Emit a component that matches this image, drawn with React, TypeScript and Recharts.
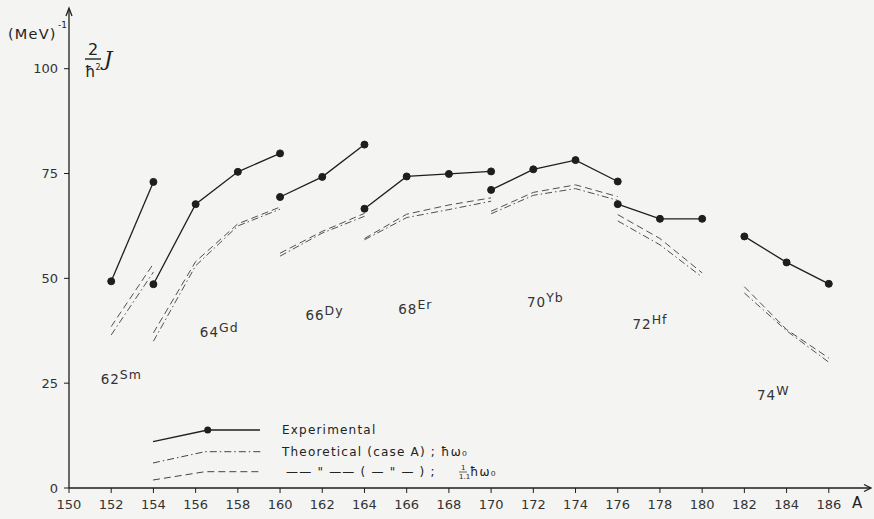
import { LineChart, Line, XAxis, YAxis, ReferenceDot, Legend } from 'recharts';

// mass numbers A for each isotope chain
const smMass = [152, 154];
const gdMass = [154, 156, 158, 160];
const dyMass = [160, 162, 164];
const erMass = [164, 166, 168, 170];
const ybMass = [170, 172, 174, 176];
const hfMass = [176, 178, 180];
const wMass = [182, 184, 186];

// experimental 2J/hbar^2 (MeV^-1)
const smExp = [49.3, 73.0];
const gdExp = [48.6, 67.7, 75.4, 79.8];
const dyExp = [69.4, 74.2, 81.9];
const erExp = [66.6, 74.3, 74.9, 75.5];
const ybExp = [71.1, 76.0, 78.2, 73.1];
const hfExp = [67.7, 64.2, 64.2];
const wExp = [60.0, 53.8, 48.7];

// theoretical, case A, hbar*omega0 (dash-dot)
const smCaseA = [36.5, 51.5];
const gdCaseA = [35.0, 53.0, 62.5, 66.5];
const dyCaseA = [55.3, 60.8, 64.8];
const erCaseA = [59.2, 64.5, 66.4, 68.4];
const ybCaseA = [65.4, 69.8, 71.4, 68.6];
const hfCaseA = [63.7, 58.0, 50.3];
const wCaseA = [46.5, 37.5, 30.0];

// theoretical, case A, hbar*omega0 / 1.1 (dashed)
const smReduced = [38.5, 53.5];
const gdReduced = [37.0, 54.0, 63.0, 67.0];
const dyReduced = [56.0, 61.2, 65.5];
const erReduced = [59.5, 65.3, 67.5, 69.2];
const ybReduced = [66.0, 70.5, 72.3, 69.5];
const hfReduced = [65.2, 59.5, 51.3];
const wReduced = [48.0, 37.8, 31.0];

const elementSymbols = ['Sm', 'Gd', 'Dy', 'Er', 'Yb', 'Hf', 'W'];
const atomicNumbers = ['62', '64', '66', '68', '70', '72', '74'];

const xTicks = [150, 152, 154, 156, 158, 160, 162, 164, 166, 168, 170, 172, 174, 176, 178, 180, 182, 184, 186];
const yTicks = [0, 25, 50, 75, 100];

// where each element name sits, in (A, value) coordinates
const labelAnchorA = [151.5, 156.2, 161.2, 165.6, 171.7, 176.7, 182.6];
const labelAnchorV = [24.7, 36.0, 40.0, 41.6, 43.2, 38.0, 21.1];

const chains = [
  { mass: smMass, exp: smExp, caseA: smCaseA, reduced: smReduced },
  { mass: gdMass, exp: gdExp, caseA: gdCaseA, reduced: gdReduced },
  { mass: dyMass, exp: dyExp, caseA: dyCaseA, reduced: dyReduced },
  { mass: erMass, exp: erExp, caseA: erCaseA, reduced: erReduced },
  { mass: ybMass, exp: ybExp, caseA: ybCaseA, reduced: ybReduced },
  { mass: hfMass, exp: hfExp, caseA: hfCaseA, reduced: hfReduced },
  { mass: wMass, exp: wExp, caseA: wCaseA, reduced: wReduced },
];

const rows = (mass: number[], vals: number[]) => mass.map((a, i) => ({ a, v: vals[i] }));

const INK = '#1e1e1e';
const FONT = '"DejaVu Sans", sans-serif';
const DASH_DOT = '7 3 1.5 3';
const DASHED = '7 4';

const ElementLabel = (p: any) => (
  <text x={p.cx} y={p.cy} fontFamily={FONT} fontSize={13.5} fill="#333" letterSpacing={1}>
    {p.z}
    <tspan dy={-5} fontSize={12.5}>{p.sym}</tspan>
  </text>
);

const LegendBox = () => (
  <svg width={360} height={70} style={{ overflow: 'visible' }}>
    <polyline points="5,21.7 59.7,10 112,10" fill="none" stroke={INK} strokeWidth={1.3} />
    <circle cx={59.7} cy={10} r={3.5} fill={INK} />
    <polyline points="5,43 57,31.7 114,31.7" fill="none" stroke="#444" strokeDasharray={DASH_DOT} />
    <polyline points="5,60 57,51.7 114,51.7" fill="none" stroke="#444" strokeDasharray={DASHED} />
    <g fontFamily={FONT} fontSize={12} fill="#222" letterSpacing={1.2}>
      <text x={134} y={14}>Experimental</text>
      <text x={134} y={36}>Theoretical (case A) ; ħω₀</text>
      <text x={138} y={56}>
        —— " —— ( — " — ) ;
      </text>
      <text x={313} y={50} fontSize={7} letterSpacing={0}>1</text>
      <line x1={311} x2={319} y1={52} y2={52} stroke="#222" strokeWidth={0.7} />
      <text x={311} y={59} fontSize={7} letterSpacing={0}>1.1</text>
      <text x={322} y={56}>ħω₀</text>
    </g>
  </svg>
);

export default function App() {
  return (
    <div style={{ position: 'absolute', left: 0, top: 0, width: 874, height: 519, background: '#f4f4f2' }}>
      <LineChart width={874} height={519} margin={{ top: 10, right: 3, bottom: 0, left: 0 }}>
        <XAxis
          type="number"
          dataKey="a"
          domain={[150, 188]}
          ticks={xTicks}
          interval={0}
          height={31}
          tickSize={5}
          tickMargin={7}
          axisLine={{ stroke: INK, strokeWidth: 1.3 }}
          tickLine={{ stroke: INK }}
          tick={{ fill: '#333', fontSize: 13, fontFamily: FONT }}
          allowDataOverflow
        />
        <YAxis
          type="number"
          domain={[0, 114]}
          ticks={yTicks}
          interval={0}
          width={69}
          tickSize={5}
          tickMargin={6}
          axisLine={{ stroke: INK, strokeWidth: 1.3 }}
          tickLine={{ stroke: INK }}
          tick={{ fill: '#333', fontSize: 13, fontFamily: FONT }}
          allowDataOverflow
        />
        <Legend
          layout="horizontal"
          verticalAlign="middle"
          align="center"
          content={() => <LegendBox />}
          wrapperStyle={{ left: 148, top: 420, width: 360, height: 70 }}
        />
        {chains.map((c, i) => (
          <Line
            key={`reduced-${i}`}
            data={rows(c.mass, c.reduced)}
            dataKey="v"
            type="linear"
            stroke="#505050"
            strokeWidth={1}
            strokeDasharray={DASHED}
            dot={false}
            activeDot={false}
            legendType="none"
            isAnimationActive={false}
          />
        ))}
        {chains.map((c, i) => (
          <Line
            key={`caseA-${i}`}
            data={rows(c.mass, c.caseA)}
            dataKey="v"
            type="linear"
            stroke="#505050"
            strokeWidth={1}
            strokeDasharray={DASH_DOT}
            dot={false}
            activeDot={false}
            legendType="none"
            isAnimationActive={false}
          />
        ))}
        {chains.map((c, i) => (
          <Line
            key={`exp-${i}`}
            data={rows(c.mass, c.exp)}
            dataKey="v"
            type="linear"
            stroke={INK}
            strokeWidth={1.3}
            dot={{ r: 3.5, fill: INK, stroke: INK, strokeWidth: 1 }}
            activeDot={false}
            legendType="none"
            isAnimationActive={false}
          />
        ))}
        {elementSymbols.map((sym, i) => (
          <ReferenceDot
            key={sym}
            x={labelAnchorA[i]}
            y={labelAnchorV[i]}
            r={1}
            ifOverflow="visible"
            shape={(p: any) => <ElementLabel cx={p.cx} cy={p.cy} z={atomicNumbers[i]} sym={sym} />}
          />
        ))}
        <ReferenceDot
          x={150}
          y={114}
          r={1}
          ifOverflow="visible"
          shape={(p: any) => (
            <path
              d={`M${p.cx},${p.cy} L${p.cx},${p.cy - 2} M${p.cx - 3},${p.cy + 6} L${p.cx},${p.cy - 2} L${p.cx + 3},${p.cy + 6}`}
              fill="none"
              stroke={INK}
              strokeWidth={1.3}
            />
          )}
        />
        <ReferenceDot
          x={188}
          y={0}
          r={1}
          ifOverflow="visible"
          shape={(p: any) => (
            <path
              d={`M${p.cx - 7},${p.cy - 3.5} L${p.cx},${p.cy} L${p.cx - 7},${p.cy + 3.5}`}
              fill="none"
              stroke={INK}
              strokeWidth={1.3}
            />
          )}
        />
      </LineChart>
      <svg
        width={874}
        height={519}
        style={{ position: 'absolute', left: 0, top: 0, pointerEvents: 'none' }}
      >
        <g fill="#222" fontFamily={FONT}>
          <text x={8} y={39} fontSize={14.5} letterSpacing={1.2}>(MeV)</text>
          <text x={58} y={28} fontSize={9}>-1</text>
          <text x={88} y={55} fontSize={16}>2</text>
          <line x1={85} x2={101} y1={59} y2={59} stroke="#222" strokeWidth={1.4} />
          <text x={85} y={77} fontSize={15}>ħ</text>
          <text x={95.5} y={70} fontSize={8}>2</text>
          <text x={104} y={66} fontSize={21} fontStyle="italic" fontFamily='"DejaVu Serif", serif'>J</text>
          <text x={852} y={508} fontSize={15}>A</text>
        </g>
      </svg>
    </div>
  );
}
